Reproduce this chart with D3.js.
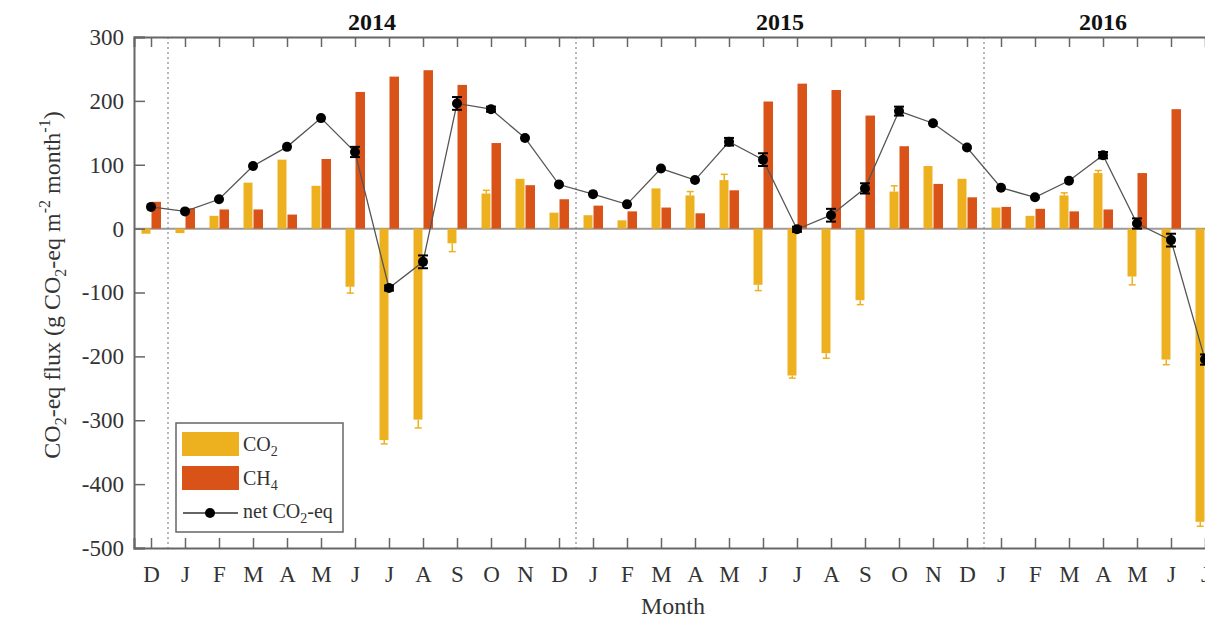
<!DOCTYPE html>
<html>
<head>
<meta charset="utf-8">
<script src="https://cdn.jsdelivr.net/npm/d3@7"></script>
<style>
  body { margin: 0; background: #fff; }
  svg text { font-family: "Liberation Serif", "Times New Roman", serif; }
</style>
</head>
<body>
<script>
// Month labels, Dec 2013 to Jul 2016
var months = ["D","J","F","M","A","M","J","J","A","S","O","N","D",
              "J","F","M","A","M","J","J","A","S","O","N","D",
              "J","F","M","A","M","J","J"]

// CO2 flux (g CO2-eq m-2 month-1) and its error
var co2 = [-8, -7, 20, 72, 108, 67, -91, -331, -299, -23, 55, 78, 25,
           21, 13, 63, 52, 76, -88, -230, -195, -112, 58, 98, 78,
           33, 20, 52, 87, -75, -205, -459]
var co2Err = [0, 0, 0, 0, 0, 0, 10, 6, 13, 13, 5, 0, 0,
              0, 0, 0, 6, 9, 9, 4, 8, 7, 9, 0, 0,
              0, 0, 4, 4, 13, 8, 7]

// CH4 flux
var ch4 = [42, 32, 30, 30, 22, 109, 214, 238, 248, 225, 134, 68, 46,
           36, 27, 33, 24, 60, 199, 227, 217, 177, 129, 70, 49,
           34, 31, 27, 30, 87, 187, 251]

// net CO2-eq and its error
var net = [34, 27, 46, 98, 128, 173, 120, -93, -52, 196, 187, 142, 69,
           54, 38, 94, 76, 136, 108, -1, 21, 63, 184, 165, 127,
           64, 49, 75, 115, 8, -18, -205]
var netErr = [0, 0, 0, 0, 0, 0, 8, 4, 10, 10, 4, 0, 0,
              0, 0, 0, 0, 6, 10, 4, 10, 8, 7, 0, 0,
              0, 0, 0, 5, 8, 10, 8]

// Year labels and where the years split (month index)
var years = ["2014", "2015", "2016"]
var yearPos = [6.5, 18.5, 28]
var yearBreaks = [0.5, 12.5, 24.5]
var yTicks = [-500, -400, -300, -200, -100, 0, 100, 200, 300]

var colorCO2 = "#EDB120"
var colorCH4 = "#D95319"
var axisColor = "#666"

var svgW = 1205
var svgH = 623
var plotLeft = 134
var plotTop = 37
var plotBottom = 548
var step = 34

var svg = d3.select("body").append("svg")
            .attr("width", svgW)
            .attr("height", svgH)

// Scales: month index -> px, flux -> px
var xScale = d3.scaleLinear()
               .domain([-0.5, months.length - 0.5])
               .range([plotLeft, plotLeft + step * months.length])
var yScale = d3.scaleLinear()
               .domain([-500, 300])
               .range([plotBottom, plotTop])

var plotRight = xScale(months.length - 0.5)
var idx = d3.range(months.length)

// Zero line
svg.append("line")
   .attr("x1", plotLeft).attr("x2", plotRight)
   .attr("y1", yScale(0)).attr("y2", yScale(0))
   .style("stroke", "#9a9a9a").style("stroke-width", 2)

// Year separators
svg.selectAll(".sep")
   .data(yearBreaks)
   .enter().append("line")
   .attr("x1", function(d){ return xScale(d) })
   .attr("x2", function(d){ return xScale(d) })
   .attr("y1", plotTop).attr("y2", plotBottom)
   .style("stroke", "#888").style("stroke-width", 1.2)
   .style("stroke-dasharray", "2,3")

var barW = 9.5

// CO2 bars (left of tick)
svg.selectAll(".co2")
   .data(idx)
   .enter().append("rect")
   .attr("x", function(i){ return xScale(i) - barW })
   .attr("width", barW - 0.5)
   .attr("y", function(i){ return yScale(Math.max(0, co2[i])) })
   .attr("height", function(i){ return Math.abs(yScale(co2[i]) - yScale(0)) })
   .style("fill", colorCO2)

// CO2 error bars
var co2E = idx.filter(function(i){ return co2Err[i] > 0 })
var errG = svg.append("g").style("stroke", colorCO2).style("stroke-width", 1.5)
co2E.forEach(function(i){
  var cx = xScale(i) - barW / 2
  var sign = co2[i] < 0 ? -1 : 1
  var yEnd = yScale(co2[i] + sign * co2Err[i])
  errG.append("line").attr("x1", cx).attr("x2", cx)
      .attr("y1", yScale(co2[i])).attr("y2", yEnd)
  errG.append("line").attr("x1", cx - 3.5).attr("x2", cx + 3.5)
      .attr("y1", yEnd).attr("y2", yEnd)
})

// CH4 bars (right of tick)
svg.selectAll(".ch4")
   .data(idx)
   .enter().append("rect")
   .attr("x", function(i){ return xScale(i) + 0.5 })
   .attr("width", barW)
   .attr("y", function(i){ return yScale(Math.max(0, ch4[i])) })
   .attr("height", function(i){ return Math.abs(yScale(ch4[i]) - yScale(0)) })
   .style("fill", colorCH4)

// Net CO2-eq line
var line = d3.line()
             .x(function(i){ return xScale(i) })
             .y(function(i){ return yScale(net[i]) })
svg.append("path")
   .datum(idx)
   .attr("d", line)
   .style("fill", "none")
   .style("stroke", "#555")
   .style("stroke-width", 1.3)

// Net error bars
var netG = svg.append("g").style("stroke", "#000").style("stroke-width", 2)
idx.filter(function(i){ return netErr[i] > 0 }).forEach(function(i){
  var cx = xScale(i)
  var y1 = yScale(net[i] + netErr[i])
  var y2 = yScale(net[i] - netErr[i])
  netG.append("line").attr("x1", cx).attr("x2", cx).attr("y1", y1).attr("y2", y2)
  netG.append("line").attr("x1", cx - 5).attr("x2", cx + 5).attr("y1", y1).attr("y2", y1)
  netG.append("line").attr("x1", cx - 5).attr("x2", cx + 5).attr("y1", y2).attr("y2", y2)
})

// Net markers
svg.selectAll(".net")
   .data(idx)
   .enter().append("circle")
   .attr("cx", function(i){ return xScale(i) })
   .attr("cy", function(i){ return yScale(net[i]) })
   .attr("r", 5)
   .style("fill", "#000")

// Axes (plain hyphen for negatives, as in the original)
var yAxis = d3.axisLeft(yScale).tickValues(yTicks)
              .tickFormat(function(d){ return String(d) })
              .tickSize(-11).tickPadding(10)
var gy = svg.append("g")
            .attr("transform", "translate(" + plotLeft + ",0)")
            .call(yAxis)

var xAxis = d3.axisBottom(xScale).tickValues(idx)
              .tickFormat(function(i){ return months[i] })
              .tickSize(-10).tickPadding(18)
var gx = svg.append("g")
            .attr("transform", "translate(0," + plotBottom + ")")
            .call(xAxis)

var xTop = d3.axisTop(xScale).tickValues(idx).tickFormat("").tickSize(-10)
var gt = svg.append("g")
            .attr("transform", "translate(0," + plotTop + ")")
            .call(xTop)

;[gy, gx, gt].forEach(function(g){
  g.selectAll("path").style("stroke", axisColor).style("stroke-width", 2)
  g.selectAll("line").style("stroke", axisColor).style("stroke-width", 1.5)
  g.selectAll("text").style("font-size", "23px").style("fill", "#333")
   .style("font-family", "'Liberation Serif', 'Times New Roman', serif")
})

// Year labels
svg.selectAll(".year")
   .data(years)
   .enter().append("text")
   .attr("x", function(d, i){ return xScale(yearPos[i]) })
   .attr("y", 30)
   .style("text-anchor", "middle")
   .style("font-weight", "bold")
   .style("font-size", "24px")
   .style("fill", "#111")
   .text(function(d){ return d })

// X axis label
svg.append("text")
   .attr("x", 673)
   .attr("y", 614)
   .style("text-anchor", "middle")
   .style("font-size", "24px")
   .style("fill", "#333")
   .text("Month")

// Y axis label with sub/superscripts
var yl = svg.append("text")
            .attr("transform", "translate(60,285) rotate(-90)")
            .style("text-anchor", "middle")
            .style("font-size", "24px")
            .style("fill", "#333")
yl.append("tspan").text("CO")
yl.append("tspan").attr("dy", 6).style("font-size", "16px").text("2")
yl.append("tspan").attr("dy", -6).text("-eq flux (g CO")
yl.append("tspan").attr("dy", 6).style("font-size", "16px").text("2")
yl.append("tspan").attr("dy", -6).text("-eq m")
yl.append("tspan").attr("dy", -10).style("font-size", "16px").text("-2")
yl.append("tspan").attr("dy", 10).text(" month")
yl.append("tspan").attr("dy", -10).style("font-size", "16px").text("-1")
yl.append("tspan").attr("dy", 10).text(")")

// Legend
var legend = svg.append("g").attr("transform", "translate(176,423)")
legend.append("rect")
      .attr("width", 167).attr("height", 109)
      .style("fill", "#fff").style("stroke", axisColor).style("stroke-width", 1.5)

var legendItems = [{label: "CO", sub: "2", color: colorCO2},
                   {label: "CH", sub: "4", color: colorCH4}]
legendItems.forEach(function(d, i){
  legend.append("rect")
        .attr("x", 6).attr("y", 9 + i * 34)
        .attr("width", 57).attr("height", 24)
        .style("fill", d.color)
  var t = legend.append("text")
                .attr("x", 67).attr("y", 28 + i * 34)
                .style("font-size", "20px").style("fill", "#333")
  t.append("tspan").text(d.label)
  t.append("tspan").attr("dy", 5).style("font-size", "14px").text(d.sub)
})
legend.append("line")
      .attr("x1", 7).attr("x2", 62).attr("y1", 90).attr("y2", 90)
      .style("stroke", "#333").style("stroke-width", 1.3)
legend.append("circle")
      .attr("cx", 34).attr("cy", 90).attr("r", 5).style("fill", "#000")
var t3 = legend.append("text")
               .attr("x", 67).attr("y", 95)
               .style("font-size", "20px").style("fill", "#333")
t3.append("tspan").text("net CO")
t3.append("tspan").attr("dy", 5).style("font-size", "14px").text("2")
t3.append("tspan").attr("dy", -5).text("-eq")
</script>
</body>
</html>
